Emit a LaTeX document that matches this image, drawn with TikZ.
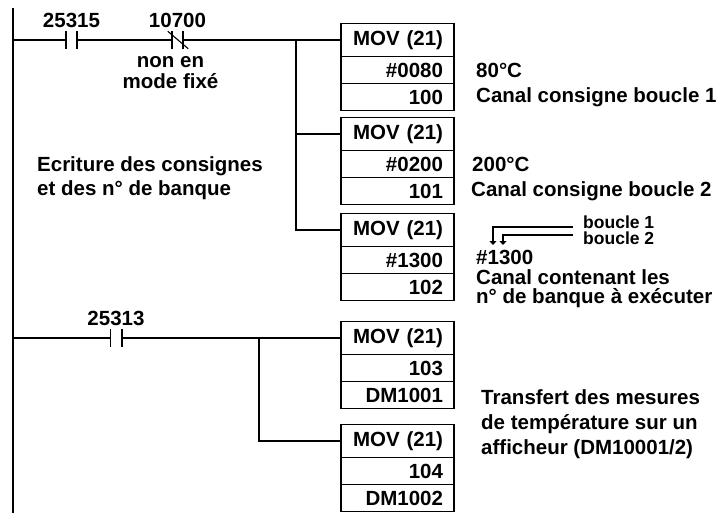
\documentclass[tikz,border=0pt]{standalone}
\usepackage{fontspec}
\setmainfont{Liberation Sans}
\usetikzlibrary{positioning,arrows.meta}
\tikzset{
  wire/.style={line width=1.6pt},
  fine/.style={line width=1.1pt},
  cell/.style={draw, line width=1.6pt, minimum width=113pt, minimum height=27pt,
    inner sep=0pt, outer sep=0pt, text width=91pt, align=right},
  movcell/.style={cell, minimum height=33pt},
  contact/.style={minimum width=11pt, minimum height=17pt, inner sep=0pt},
  note/.style={inner sep=0pt, anchor=west, align=left},
  small note/.style={note, font=\fontsize{17.5}{16.5}\selectfont\bfseries},
}
\begin{document}
\begin{tikzpicture}[x=1pt, y=-1pt, font=\fontsize{20.5}{25}\selectfont\bfseries]
\useasboundingbox (0,0) rectangle (722,513);
\coordinate (railtop) at (13,8);
\coordinate (railbot) at (13,513);
\draw[wire] (railtop) -- (railbot);

\node[contact, label=above:25315] (ca) at (71.5,40) {};
\node[contact, label=above:10700] (cb) at (177.5,40) {};
\node[inner sep=0pt, align=center, font=\fontsize{20.5}{21}\selectfont\bfseries,
  below=8pt of cb, xshift=-7pt] (cbnote) {non en\\mode fixé};
\coordinate (ja) at (296,40);

\node[movcell] (m1) at (397.5,40) {MOV (21)};
\node[cell, below=0pt of m1] (m1b) {\#0080};
\node[cell, below=0pt of m1b] (m1c) {100};
\node[movcell] (m2) at (397.5,134) {MOV (21)};
\node[cell, below=0pt of m2] (m2b) {\#0200};
\node[cell, below=0pt of m2b] (m2c) {101};
\node[movcell] (m3) at (397.5,230) {MOV (21)};
\node[cell, below=0pt of m3] (m3b) {\#1300};
\node[cell, below=0pt of m3b] (m3c) {102};

\draw[wire] (railtop |- ca) -- (ca.west);
\draw[wire] (ca.east) -- (cb.west);
\draw[wire] (cb.east) -- (m1.west);
\draw[wire] (ca.north west) -- (ca.south west);
\draw[wire] (ca.north east) -- (ca.south east);
\draw[wire] (cb.north west) -- (cb.south west);
\draw[wire] (cb.north east) -- (cb.south east);
\draw[fine] ([xshift=-4pt]cb.north west) -- ([xshift=5pt]cb.south east);
\draw[wire] (ja) |- (m2.west);
\draw[wire] (ja) |- (m3.west);

\node[note, font=\fontsize{20.5}{24}\selectfont\bfseries] (ecr) at (37,178)
  {Ecriture des consignes\\et des n° de banque};
\node[note, right=22pt of m1b] (t80) {80°C};
\node[note, right=22pt of m1c] (tc1) {Canal consigne boucle 1};
\node[note, right=18pt of m2b] (t200) {200°C};
\node[note, right=17pt of m2c] (tc2) {Canal consigne boucle 2};
\node[small note] (bb) at (583,230) {boucle 1\\boucle 2};
\coordinate (p1) at (493,245);
\coordinate (p2) at (503,245);
\draw[fine, -{Triangle[length=4pt,width=7pt]}] ([xshift=-10pt,yshift=3pt]bb.west) -| (p1);
\draw[fine, -{Triangle[length=4pt,width=7pt]}] ([xshift=-10pt,yshift=-5pt]bb.west) -| (p2);
\node[note, right=22pt of m3b, yshift=3pt] (t1300) {\#1300};
\node[note, right=22pt of m3c, yshift=-2pt, font=\fontsize{20.5}{19}\selectfont\bfseries] (tcan)
  {Canal contenant les\\n° de banque à exécuter};

\node[contact, label=above:25313] (cc) at (116,338) {};
\coordinate (jb) at (259,338);
\node[movcell] (m4) at (397.5,338) {MOV (21)};
\node[cell, below=0pt of m4] (m4b) {103};
\node[cell, below=0pt of m4b] (m4c) {DM1001};
\node[movcell] (m5) at (397.5,441) {MOV (21)};
\node[cell, below=0pt of m5] (m5b) {104};
\node[cell, below=0pt of m5b] (m5c) {DM1002};

\draw[wire] (railtop |- cc) -- (cc.west);
\draw[wire] (cc.east) -- (m4.west);
\draw[wire] (cc.north west) -- (cc.south west);
\draw[wire] (cc.north east) -- (cc.south east);
\draw[wire] (jb) |- (m5.west);

\node[note] (ttr) at (481,424)
  {Transfert des mesures\\de température sur un\\afficheur (DM10001/2)};
\end{tikzpicture}
\end{document}
